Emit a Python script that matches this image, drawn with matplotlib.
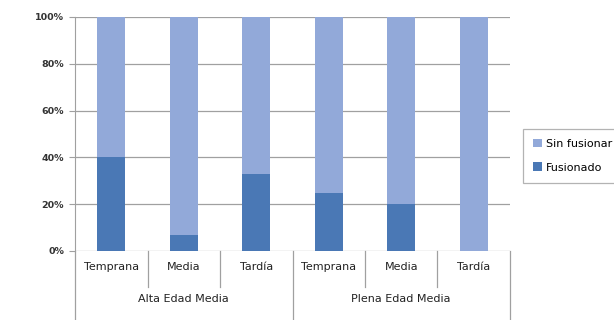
import matplotlib.pyplot as plt
import numpy as np

plt.rcParams['font.family'] = ['DejaVu Sans']

periodos = ['Temprana', 'Media', 'Tardía', 'Temprana', 'Media', 'Tardía']
grupos = ['Alta Edad Media', 'Plena Edad Media']
fusionado = [40, 7, 33, 25, 20, 0]
sin_fusionar = [60, 93, 67, 75, 80, 100]

c_sin = '#92a9d9'
c_fus = '#4a78b5'
gris = '#a0a0a0'

fig = plt.figure(figsize=(6.14, 3.2), dpi=100)
ax = fig.add_axes([75 / 614, 69 / 320, 435 / 614, 234 / 320])

x = np.arange(len(periodos))
ax.bar(x, fusionado, width=0.39, color=c_fus, label='Fusionado', zorder=3)
ax.bar(x, sin_fusionar, width=0.39, bottom=fusionado, color=c_sin,
       label='Sin fusionar', zorder=3)

ax.set_xlim(-0.5, len(periodos) - 0.5)
ax.set_ylim(0, 100)
ax.set_yticks(range(0, 101, 20))
ax.set_yticklabels([f'{v}%' for v in range(0, 101, 20)], fontsize=6.8,
                   fontweight='bold', color='#333333')
ax.yaxis.grid(True, color=gris, linewidth=0.9, zorder=0)
ax.tick_params(axis='y', length=4, color=gris, pad=4)
ax.set_xticks([])
for s in ['top', 'right', 'bottom']:
    ax.spines[s].set_visible(False)
ax.spines['left'].set_color(gris)
ax.spines['left'].set_zorder(4)

# category boxes below the axis
tr = ax.get_xaxis_transform()
ax.plot([-0.5, -0.5], [0, -0.3], color=gris, lw=0.9, transform=tr, clip_on=False)
for i in range(len(periodos)):
    ax.text(x[i], -0.068, periodos[i], transform=tr, ha='center', va='center',
            fontsize=8, color='#222222')
    edge = i + 0.5
    if (i + 1) % 3 == 0:
        ax.plot([edge, edge], [0, -0.3], color=gris, lw=0.9, transform=tr, clip_on=False)
    else:
        ax.plot([edge, edge], [0, -0.155], color=gris, lw=0.9, transform=tr, clip_on=False)
for g, nombre in enumerate(grupos):
    ax.text(g * 3 + 1, -0.205, nombre, transform=tr, ha='center', va='center',
            fontsize=8, color='#222222')

handles, labels = ax.get_legend_handles_labels()
leg = fig.legend(handles[::-1], labels[::-1], loc='upper left',
                 bbox_to_anchor=(523 / 614, 1 - 129 / 320), fontsize=8,
                 frameon=True, fancybox=False, edgecolor=gris, handlelength=0.8,
                 handleheight=0.8, handletextpad=0.35, borderpad=0.9, labelspacing=1.2,
                 borderaxespad=0)
leg.get_frame().set_linewidth(0.9)

fig.savefig('out.png', dpi=100)
